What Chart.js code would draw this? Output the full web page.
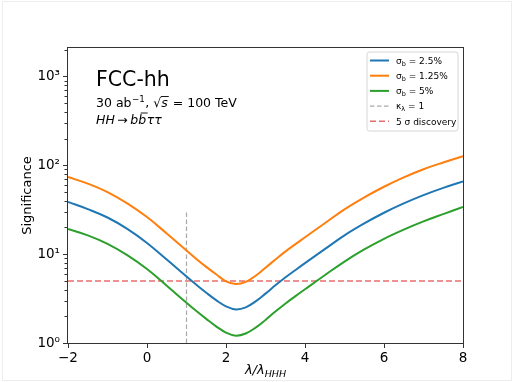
<!DOCTYPE html>
<html><head><meta charset="utf-8">
<script src="https://cdn.jsdelivr.net/npm/chart.js@4/dist/chart.umd.min.js"></script>
<style>html,body{margin:0;padding:0;background:#fff}canvas{display:block}</style>
</head><body>
<canvas id="c" width="512" height="382" style="width:512px;height:382px"></canvas>
<script>
// ---- data ----
const lambdaValues = [-2,-1.5,-1,-0.5,0,0.5,1,1.25,1.5,1.75,2,2.25,2.5,2.75,3,3.25,3.5,3.75,4,4.5,5,5.5,6,6.5,7,7.5,8];
const sigB25  = [38.7,32.2,25.9,19.3,13.4,8.7,5.6,4.52,3.68,3.04,2.59,2.39,2.52,2.94,3.6,4.46,5.47,6.6,7.94,11.4,16.3,22.2,29.3,37.3,46.2,55.8,66];
const sigB125 = [74,62.4,50.1,37.4,26.2,17.1,11.0,8.85,7.2,5.94,4.95,4.62,4.88,5.72,7.05,8.7,10.7,12.9,15.5,22.3,32,43.6,57.5,73.3,90.6,108,127];
const sigB5   = [19.2,16.3,13.1,9.77,6.8,4.42,2.84,2.29,1.87,1.54,1.31,1.21,1.28,1.49,1.82,2.26,2.77,3.35,4.03,5.8,8.26,11.3,14.9,18.9,23.4,28.3,34];
const kappaX = [1,1];
const kappaY = [1,30];
const discoveryX = [-2,8];
const discoveryY = [5,5];
const xTickValues = [-2,0,2,4,6,8];
const yTickValues = [1,10,100,1000];
const yTickLabels = ['10\u2070','10\u00b9','10\u00b2','10\u00b3'];
const legendItems = [
  {main:'\u03c3', sub:'b', rest:' = 2.5%'},
  {main:'\u03c3', sub:'b', rest:' = 1.25%'},
  {main:'\u03c3', sub:'b', rest:' = 5%'},
  {main:'\u03ba', sub:'\u03bb', rest:' = 1'},
  {main:'5 \u03c3 discovery', sub:'', rest:''}
];

const FONT = '"DejaVu Sans", sans-serif';
const pts = (xs, ys) => xs.map((x,i)=>({x:x, y:ys[i]}));

const colors = ['#1f77b4','#ff7f0e','#2ca02c','rgba(140,140,140,0.75)','rgba(222,60,60,0.75)'];
const dashes = [[],[],[],[4.5,2.5],[6,3]];
const widths = [2,2,2,1.2,1.6];

const decor = {
  id:'decor',
  beforeDraw(chart){
    const ctx = chart.ctx;
    ctx.save();
    ctx.fillStyle = '#fff';
    ctx.fillRect(0,0,chart.width,chart.height);
    ctx.strokeStyle = 'rgba(0,0,0,0.07)';
    ctx.lineWidth = 1;
    ctx.strokeRect(2.5,1.5,chart.width-3,chart.height-3);
    ctx.restore();
  },
  afterDatasetsDraw(chart){
    const ctx = chart.ctx, a = chart.chartArea;
    const ys = chart.scales.y;
    ctx.save();
    // frame
    ctx.strokeStyle = '#333';
    ctx.lineWidth = 1;
    ctx.strokeRect(Math.round(a.left)-0.5, Math.round(a.top)-0.5, Math.round(a.right-a.left)+1, Math.round(a.bottom-a.top)+1);
    // minor log ticks on left
    ctx.beginPath();
    for (let d=1; d<=1000; d*=10){
      for (let m=2; m<=9; m++){
        const v = m*d;
        if (v > ys.max) continue;
        const py = Math.round(ys.getPixelForValue(v))+0.5;
        ctx.moveTo(a.left-0.5, py); ctx.lineTo(a.left-3.5, py);
      }
    }
    ctx.stroke();

    // annotation text
    ctx.fillStyle = '#000';
    ctx.textBaseline = 'alphabetic';
    ctx.textAlign = 'left';
    ctx.font = '20.5px ' + FONT;
    ctx.fillText('FCC-hh', 96, 86);

    let x = 96, y = 107;
    const f = 12.5;
    ctx.font = f+'px '+FONT;
    ctx.fillText('30 ab', x, y); x += ctx.measureText('30 ab').width;
    ctx.font = (f*0.7)+'px '+FONT;
    ctx.fillText('\u22121', x+0.5, y-5); x += ctx.measureText('\u22121').width+1;
    ctx.font = f+'px '+FONT;
    ctx.fillText(', ', x, y); x += ctx.measureText(', ').width;
    ctx.fillText('\u221a', x, y); const rw = ctx.measureText('\u221a').width; x += rw;
    ctx.font = 'italic '+f+'px '+FONT;
    ctx.fillText('s', x, y); const sw = ctx.measureText('s').width;
    ctx.beginPath(); ctx.lineWidth = 0.9; ctx.strokeStyle='#000';
    ctx.moveTo(x-0.5, y-10.5); ctx.lineTo(x+sw+1, y-10.5); ctx.stroke();
    x += sw + 1;
    ctx.font = f+'px '+FONT;
    ctx.fillText(' = 100 TeV', x, y);

    x = 96; y = 124;
    ctx.font = 'italic '+f+'px '+FONT;
    ctx.fillText('HH', x, y); x += ctx.measureText('HH').width + 2.5;
    ctx.font = f+'px '+FONT;
    ctx.fillText('\u2192', x, y); x += ctx.measureText('\u2192').width + 2.5;
    ctx.font = 'italic '+f+'px '+FONT;
    ctx.fillText('b', x, y); x += ctx.measureText('b').width;
    ctx.fillText('b', x, y); const bw = ctx.measureText('b').width;
    ctx.beginPath(); ctx.moveTo(x+2.5, y-11); ctx.lineTo(x+bw+1.5, y-11); ctx.stroke();
    x += bw + 0.5;
    ctx.fillText('\u03c4\u03c4', x, y);

    // x axis title
    ctx.font = 'italic 13px '+FONT;
    const t1 = '\u03bb/\u03bb';
    const w1 = ctx.measureText(t1).width;
    ctx.font = 'italic 9.5px '+FONT;
    const w2 = ctx.measureText('HHH').width;
    let tx = (a.left+a.right)/2 - (w1+w2)/2;
    ctx.font = 'italic 13px '+FONT;
    ctx.fillText(t1, tx, 374);
    ctx.font = 'italic 9.5px '+FONT;
    ctx.fillText('HHH', tx+w1, 377);

    // legend
    const lx = 367, ly = 52, lw = 91, lh = 79;
    ctx.beginPath();
    const r = 2.5;
    ctx.moveTo(lx+r, ly); ctx.lineTo(lx+lw-r, ly); ctx.quadraticCurveTo(lx+lw, ly, lx+lw, ly+r);
    ctx.lineTo(lx+lw, ly+lh-r); ctx.quadraticCurveTo(lx+lw, ly+lh, lx+lw-r, ly+lh);
    ctx.lineTo(lx+r, ly+lh); ctx.quadraticCurveTo(lx, ly+lh, lx, ly+lh-r);
    ctx.lineTo(lx, ly+r); ctx.quadraticCurveTo(lx, ly, lx+r, ly);
    ctx.fillStyle = 'rgba(255,255,255,0.8)'; ctx.fill();
    ctx.strokeStyle = '#d6d6d6'; ctx.lineWidth = 1; ctx.stroke();
    legendItems.forEach((it, i) => {
      const cy = 60.5 + i*15.2;
      ctx.beginPath();
      ctx.strokeStyle = colors[i];
      ctx.lineWidth = widths[i];
      ctx.setLineDash(dashes[i]);
      ctx.moveTo(370, cy); ctx.lineTo(389, cy); ctx.stroke();
      ctx.setLineDash([]);
      ctx.fillStyle = '#000';
      let px = 396;
      const by = cy + 3.3;
      ctx.font = '9px '+FONT;
      ctx.fillText(it.main, px, by); px += ctx.measureText(it.main).width;
      if (it.sub){
        ctx.font = '6.5px '+FONT;
        ctx.fillText(it.sub, px, by+1.8); px += ctx.measureText(it.sub).width;
      }
      if (it.rest){
        ctx.font = '9px '+FONT;
        ctx.fillText(it.rest, px, by);
      }
    });
    ctx.restore();
  }
};

const ds = [
  {label:'\u03c3b = 2.5%', data: pts(lambdaValues, sigB25)},
  {label:'\u03c3b = 1.25%', data: pts(lambdaValues, sigB125)},
  {label:'\u03c3b = 5%', data: pts(lambdaValues, sigB5)},
  {label:'\u03ba\u03bb = 1', data: pts(kappaX, kappaY)},
  {label:'5 \u03c3 discovery', data: pts(discoveryX, discoveryY)}
].map((d,i)=>Object.assign(d,{
  borderColor: colors[i], backgroundColor: colors[i], borderWidth: widths[i],
  borderDash: dashes[i], pointRadius: 0, fill:false,
  cubicInterpolationMode: 'default', tension: i<3 ? 0.4 : 0
}));
new Chart(document.getElementById('c'), {
  type:'line',
  data:{datasets: ds},
  plugins:[decor],
  options:{
    responsive:false, animation:false, devicePixelRatio:1,
    layout:{padding:{left:16, right:49, top:48, bottom:0}},
    plugins:{legend:{display:false}, tooltip:{enabled:false}},
    scales:{
      x:{
        type:'linear', min:-2, max:8,
        afterBuildTicks(s){ s.ticks = xTickValues.map(v=>({value:v})); },
        afterFit(s){ s.height = 39; },
        border:{display:false},
        grid:{drawOnChartArea:false, drawTicks:true, tickLength:5, color:'#333', tickColor:'#333'},
        ticks:{color:'#000', padding:2, maxRotation:0, font:{family:FONT, size:13.5},
          callback:(v)=> v<0 ? '\u2212'+Math.abs(v) : String(v)}
      },
      y:{
        type:'logarithmic', min:1, max:2100,
        afterBuildTicks(s){ s.ticks = yTickValues.map(v=>({value:v})); },
        afterFit(s){ s.width = 52; },
        border:{display:false},
        grid:{drawOnChartArea:false, drawTicks:true, tickLength:5, color:'#333', tickColor:'#333'},
        title:{display:true, text:'Significance', color:'#000', font:{family:FONT, size:13}, padding:{top:4,bottom:4}},
        ticks:{color:'#000', padding:3, font:{family:FONT, size:13.5},
          callback:(v)=>{ const i = yTickValues.indexOf(v); return i>=0 ? yTickLabels[i] : ''; }}
      }
    }
  }
});
</script>
</body></html>
